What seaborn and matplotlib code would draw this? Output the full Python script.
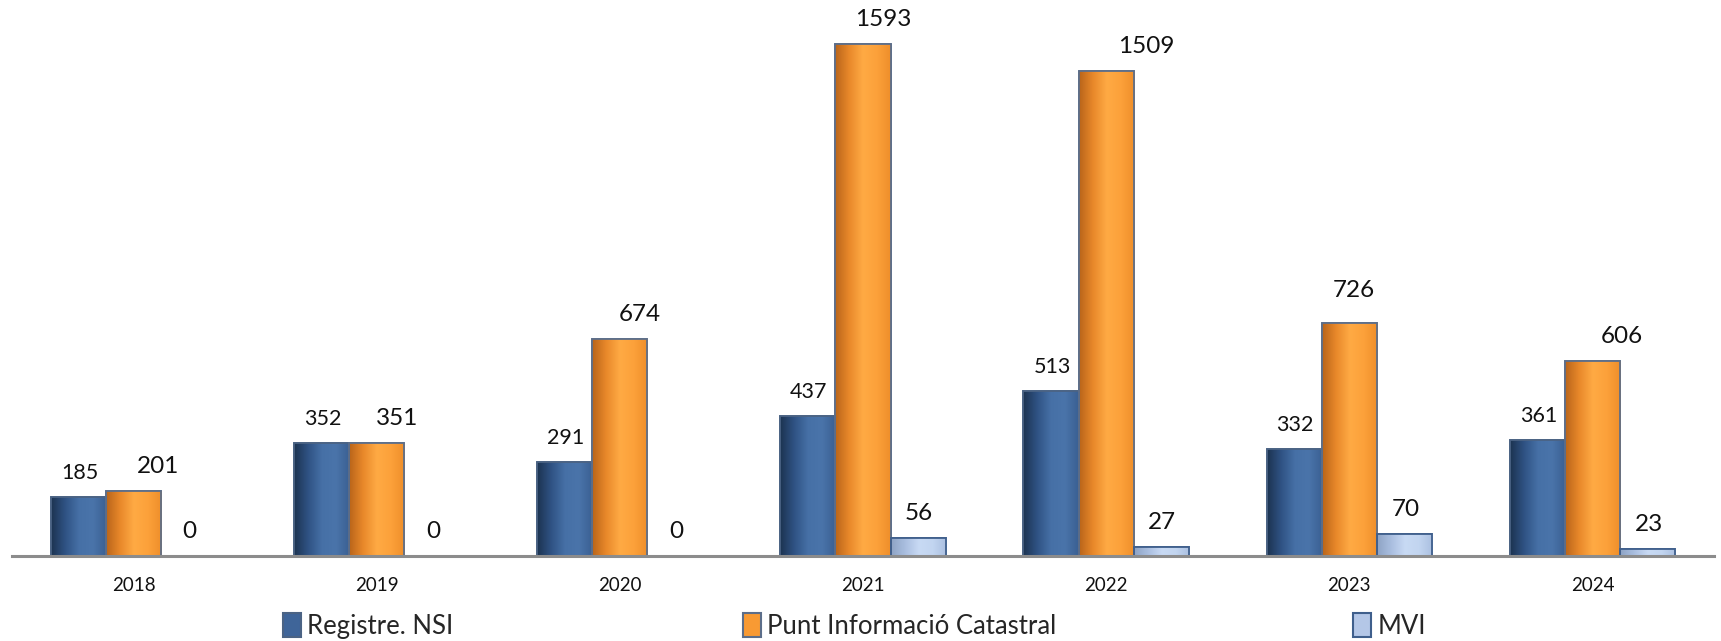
import numpy as np
import pandas as pd
import matplotlib
matplotlib.use("Agg")
import matplotlib.pyplot as plt
import seaborn as sns
from matplotlib.colors import LinearSegmentedColormap
from matplotlib.patches import Patch

years = ["2018", "2019", "2020", "2021", "2022", "2023", "2024"]
series_names = ["Registre. NSI", "Punt Informació Catastral", "MVI"]
registre_nsi = [185, 352, 291, 437, 513, 332, 361]
punt_catastral = [201, 351, 674, 1593, 1509, 726, 606]
mvi = [0, 0, 0, 56, 27, 70, 23]

df = pd.DataFrame({
    "year": years * 3,
    "series": [series_names[0]] * 7 + [series_names[1]] * 7 + [series_names[2]] * 7,
    "value": registre_nsi + punt_catastral + mvi,
})

base_colors = {
    series_names[0]: "#3F6599",
    series_names[1]: "#F89A33",
    series_names[2]: "#B4C7E7",
}
# horizontal shading ramps that give each bar a rounded look
ramps = {
    series_names[0]: ["#1C3350", "#2F5283", "#4670A6", "#4A74AA", "#3A5F92"],
    series_names[1]: ["#B8641A", "#E8882A", "#FFAA44", "#FCA13A", "#EE8E2A"],
    series_names[2]: ["#8EA3C4", "#A9BEDF", "#C8DAF4", "#C2D5F0", "#AABFE0"],
}
edge_colors = {
    series_names[0]: "#4B6384",
    series_names[1]: "#5C6E8A",
    series_names[2]: "#3F5F8C",
}

# pixel nudges for the orange value labels (hand-placed labels)
orange_label_dx = [24, 20, 20, 20, 40, 5, 29]
orange_label_dy = [18, 18, 18, 18, 18, 26, 18]

sns.set_theme(style="white")
plt.rcParams["font.family"] = ["Lato", "DejaVu Sans"]

fig = plt.figure(figsize=(17.21, 6.41), dpi=100)
ax = fig.add_axes([12 / 1721, 85 / 641, 1702 / 1721, 556 / 641])

sns.barplot(data=df, x="year", y="value", hue="series", order=years,
            hue_order=series_names, palette=base_colors, width=0.68, gap=0,
            legend=False, ax=ax, saturation=1)

ax.set_xlim(-0.5, 6.5)
ax.set_ylim(0, 1730)

gradient = np.linspace(0, 1, 256).reshape(1, -1)
n = len(years)
for i, patch in enumerate(ax.patches):
    name = series_names[i // n]
    x0 = patch.get_x()
    w = patch.get_width()
    h = patch.get_height()
    cmap = LinearSegmentedColormap.from_list(name, ramps[name])
    patch.set_edgecolor(edge_colors[name])
    patch.set_linewidth(1.2)
    if h > 0:
        im = ax.imshow(gradient, cmap=cmap, aspect="auto",
                       extent=(x0, x0 + w, 0, h), zorder=patch.get_zorder() + 0.1,
                       interpolation="bicubic")
        im.set_clip_path(patch)
        outline = plt.Rectangle((x0, 0), w, h, fill=False,
                                edgecolor=edge_colors[name], linewidth=1.3,
                                zorder=patch.get_zorder() + 0.2)
        ax.add_patch(outline)

# value labels
label_size = {series_names[0]: 15.5, series_names[1]: 17.5, series_names[2]: 17.5}
for s_idx, (name, vals) in enumerate(zip(series_names, [registre_nsi, punt_catastral, mvi])):
    for j, v in enumerate(vals):
        patch = ax.patches[s_idx * n + j]
        xc = patch.get_x() + patch.get_width() / 2
        if s_idx == 1:
            dx, dy = orange_label_dx[j], orange_label_dy[j]
        else:
            dx, dy = 1, 18
        ax.annotate(f"{v}", (xc, v), xytext=(dx, dy), textcoords="offset pixels",
                    ha="center", va="baseline", fontsize=label_size[name],
                    color="#111111")

sns.despine(ax=ax, left=True, top=True, right=True)
ax.spines["bottom"].set_color("#8C8C8C")
ax.spines["bottom"].set_linewidth(2.2)
ax.set_yticks([])
ax.set_xlabel("")
ax.set_ylabel("")
ax.tick_params(axis="x", length=0, pad=15, labelsize=13.5, labelcolor="#111111")

# one legend entry per column, each anchored at its own position
legend_x = [283, 743, 1353]
for s, lx in zip(series_names, legend_x):
    h = Patch(facecolor=base_colors[s], edgecolor=edge_colors[s], linewidth=1.5)
    fig.legend([h], [s], loc="center left",
               bbox_to_anchor=(lx / 1721, 1 - 626 / 641),
               frameon=False, fontsize=18.5, handlelength=0.7, borderpad=0,
               borderaxespad=0, handleheight=1.05, handletextpad=0.25)

fig.savefig("out.png", dpi=100)
